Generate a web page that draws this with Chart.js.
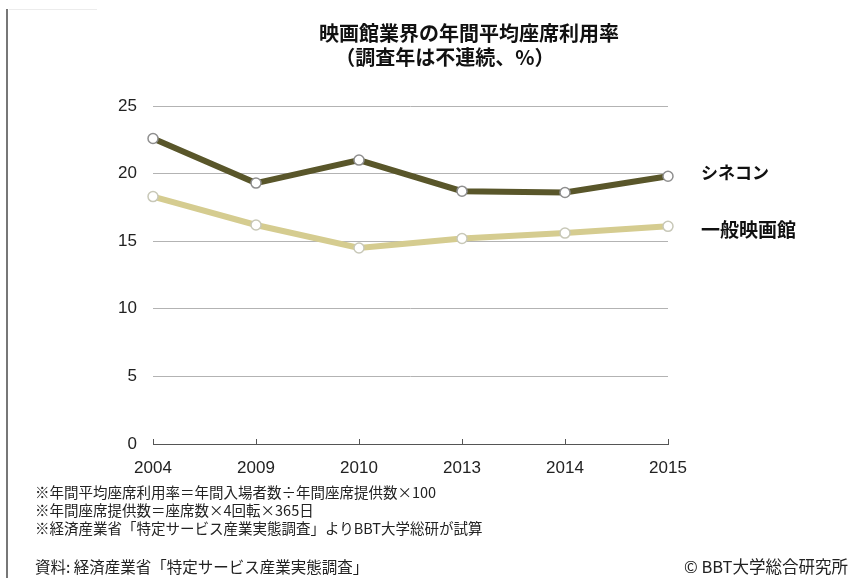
<!DOCTYPE html>
<html lang="ja">
<head>
<meta charset="utf-8">
<title>映画館業界の年間平均座席利用率</title>
<script src="https://cdn.jsdelivr.net/npm/chart.js@4.4.1/dist/chart.umd.min.js"></script>
<style>
  body { margin: 0; background: #fff; font-family: "Liberation Sans", "Noto Sans CJK JP", sans-serif; color: #222; }
  #wrap { position: relative; width: 862px; height: 578px; overflow: hidden; }
  #chart { position: absolute; left: 0; top: 0; }
  .t { position: absolute; white-space: nowrap; font-family: "Noto Sans CJK JP", sans-serif; }
  #title { left: 269px; width: 400px; top: 20px; text-align: center; font-size: 20px; font-weight: bold; line-height: 26px; color: #111; }
  #subtitle { left: 245px; width: 400px; top: 44px; text-align: center; font-size: 20px; font-weight: bold; line-height: 26px; color: #111; }
  .note { left: 35px; font-size: 14.5px; line-height: 18px; color: #222; }
  #source { left: 35px; top: 555px; font-size: 15.5px; line-height: 22px; color: #222; }
  #credit { right: 14px; top: 555px; font-size: 16.5px; line-height: 22px; color: #222; }
  #edge { position: absolute; left: 6px; top: 9px; width: 1.5px; height: 569px; background: #777; }
  #edgeTop { position: absolute; left: 9px; top: 9px; width: 88px; height: 1px; background: #ececec; }
</style>
</head>
<body>
<div id="wrap">
  <div id="edge"></div>
  <div id="edgeTop"></div>
  <canvas id="chart" width="862" height="578"></canvas>
  <div class="t" id="title">映画館業界の年間平均座席利用率</div>
  <div class="t" id="subtitle">（調査年は不連続、%）</div>
  <div class="t note" style="top:483px">※年間平均座席利用率＝年間入場者数÷年間座席提供数×100</div>
  <div class="t note" style="top:501px">※年間座席提供数＝座席数×4回転×365日</div>
  <div class="t note" style="top:519px">※経済産業省「特定サービス産業実態調査」よりBBT大学総研が試算</div>
  <div class="t" id="source">資料: 経済産業省「特定サービス産業実態調査」</div>
  <div class="t" id="credit">© BBT大学総合研究所</div>
</div>
<script>
const years = ['2004', '2009', '2010', '2013', '2014', '2015'];
const cinecon = [22.6, 19.3, 21.0, 18.7, 18.6, 19.8];
const generalTheaters = [18.3, 16.2, 14.5, 15.2, 15.6, 16.1];
const seriesNames = ['シネコン', '一般映画館'];
const yTicks = [0, 5, 10, 15, 20, 25];

// small upward tick marks on the x axis, and series names next to the last point
const axisExtras = {
  id: 'axisExtras',
  afterDatasetsDraw(chart) {
    const ctx = chart.ctx;
    const x = chart.scales.x;
    const y = chart.scales.y;
    const base = y.getPixelForValue(0);
    ctx.save();
    ctx.strokeStyle = '#555';
    ctx.lineWidth = 1;
    years.forEach((yr, i) => {
      const px = Math.round(x.getPixelForValue(i)) + 0.5;
      ctx.beginPath();
      ctx.moveTo(px, base);
      ctx.lineTo(px, base - 5);
      ctx.stroke();
    });
    ctx.fillStyle = '#111';
    ctx.textBaseline = 'middle';
    chart.data.datasets.forEach((ds, i) => {
      const last = ds.data.length - 1;
      const py = y.getPixelForValue(ds.data[last]);
      ctx.font = 'bold ' + (i === 0 ? 17 : 19) + 'px "Noto Sans CJK JP"';
      ctx.fillText(seriesNames[i], chart.chartArea.right + 33, py + (i === 0 ? -4 : 3));
    });
    ctx.restore();
  }
};

const lineChart = new Chart(document.getElementById('chart'), {
  type: 'line',
  data: {
    labels: years,
    datasets: [{
      label: seriesNames[0],
      data: cinecon,
      borderColor: '#59562a',
      borderWidth: 6,
      pointRadius: 5,
      pointBackgroundColor: '#fff',
      pointBorderColor: '#8f8f8f',
      pointBorderWidth: 1.5,
      tension: 0
    }, {
      label: seriesNames[1],
      data: generalTheaters,
      borderColor: '#d5cc90',
      borderWidth: 6,
      pointRadius: 5,
      pointBackgroundColor: '#fff',
      pointBorderColor: '#c8c8b8',
      pointBorderWidth: 1.5,
      tension: 0
    }]
  },
  options: {
    responsive: false,
    animation: false,
    layout: { padding: { left: 113, right: 194, top: 106, bottom: 104 } },
    plugins: {
      legend: { display: false },
      tooltip: { enabled: false }
    },
    scales: {
      x: {
        offset: false,
        grid: { display: false },
        border: { display: true, color: '#555', width: 1 },
        ticks: { color: '#222', padding: 6, maxRotation: 0, font: { family: '"Liberation Sans", Arial', size: 17 } },
        afterFit: (scale) => { scale.height = 30; }
      },
      y: {
        min: 0,
        max: 25,
        afterBuildTicks: (scale) => { scale.ticks = yTicks.map(v => ({ value: v })); },
        grid: {
          drawTicks: false,
          color: (c) => c.tick && c.tick.value === 0 ? 'rgba(0,0,0,0)' : '#b3b3b3',
          lineWidth: 1
        },
        border: { display: false },
        ticks: { color: '#222', padding: 16, font: { family: '"Liberation Sans", Arial', size: 17 } },
        afterFit: (scale) => { scale.width = 40; }
      }
    }
  },
  plugins: [axisExtras]
});
</script>
</body>
</html>
